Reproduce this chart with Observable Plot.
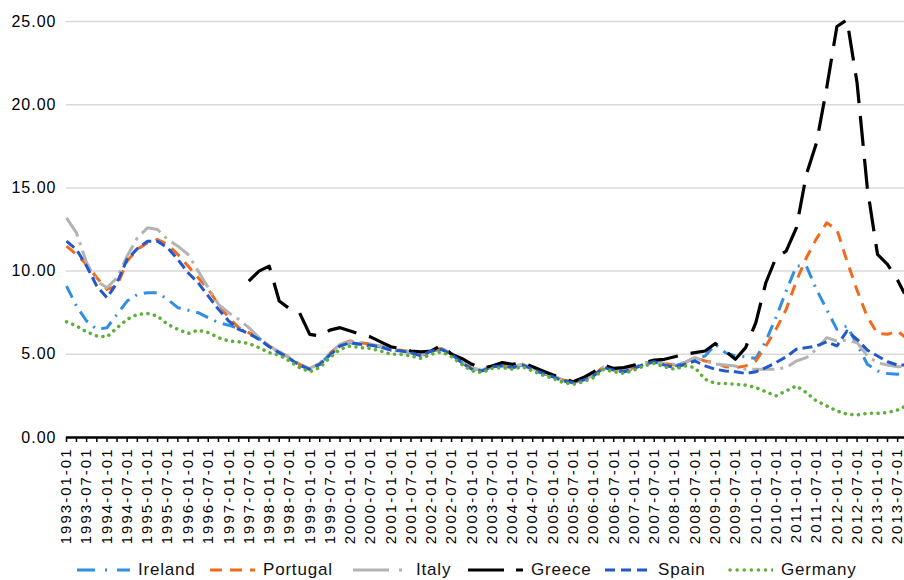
<!DOCTYPE html>
<html><head><meta charset="utf-8">
<script src="https://cdn.jsdelivr.net/npm/d3@7"></script>
<script src="https://cdn.jsdelivr.net/npm/@observablehq/plot@0.6"></script>
<style>
body{margin:0;background:#fff;font-family:"Liberation Sans",Arial,sans-serif;}
#chart svg [aria-label="x-axis tick label"] text{letter-spacing:2px;}
#chart svg [aria-label="y-axis tick label"] text{letter-spacing:1px;}
#legend{position:relative;height:36px;width:904px;}
.item{position:absolute;top:0;height:36px;display:flex;align-items:center;font-size:17px;letter-spacing:0.8px;color:#111;}
.item svg{margin-right:8px;}
</style></head><body>
<div id="chart"></div>
<div id="legend"></div>
<script>
// Series names (legend order)
const seriesNames = ["Ireland", "Portugal", "Italy", "Greece", "Spain", "Germany"];

// Quarterly observation dates 1993-01 .. 2013-07, plus 2013-09
const dates = [...d3.utcMonth.every(3).range(new Date("1993-01-01"), new Date("2013-07-02")), new Date("2013-09-01")];

const ireland = [9.1,7.9,7.0,6.5,6.6,7.4,8.2,8.6,8.7,8.7,8.3,7.8,7.65,7.5,7.2,6.9,6.75,6.55,6.3,5.95,
5.5,5.1,4.75,4.35,4.1,4.4,5.0,5.55,5.7,5.6,5.5,5.45,5.25,5.2,5.1,4.9,5.2,5.3,5.0,4.5,
4.1,4.0,4.25,4.3,4.2,4.35,4.1,3.85,3.65,3.4,3.3,3.45,3.75,4.2,4.05,3.95,4.15,4.4,4.55,4.4,
4.3,4.5,4.7,4.9,5.6,5.1,4.9,4.85,4.75,5.8,7.2,8.8,10.3,10.3,8.9,7.7,6.5,6.7,5.6,4.4,4.0,3.85,3.8,3.9];

const portugal = [11.5,11.0,10.4,9.6,8.9,9.1,10.6,11.3,11.7,11.9,11.6,11.0,10.3,9.6,8.9,8.0,7.2,6.6,6.3,5.95,
5.5,5.15,4.8,4.4,4.15,4.45,5.05,5.6,5.8,5.7,5.6,5.5,5.3,5.25,5.15,4.95,5.25,5.35,5.05,4.55,
4.15,4.05,4.3,4.35,4.25,4.4,4.15,3.9,3.7,3.45,3.35,3.5,3.75,4.25,4.1,4.0,4.2,4.45,4.6,4.45,
4.35,4.5,4.8,4.6,4.5,4.25,4.2,4.3,4.6,5.5,6.5,7.7,9.4,10.8,11.95,12.9,12.5,10.6,8.85,7.25,6.25,6.2,6.4,6.05];

const italy = [13.2,12.3,10.5,9.4,9.0,9.6,10.9,12.0,12.6,12.5,11.9,11.5,11.0,10.0,9.0,8.0,7.5,7.1,6.6,6.0,
5.5,5.15,4.8,4.4,4.15,4.45,5.05,5.6,5.75,5.7,5.6,5.5,5.3,5.25,5.15,4.95,5.25,5.35,5.05,4.55,
4.15,4.05,4.3,4.35,4.25,4.4,4.15,3.9,3.7,3.45,3.35,3.5,3.75,4.25,4.1,4.0,4.2,4.45,4.6,4.45,
4.4,4.5,4.8,4.6,4.4,4.35,4.3,4.1,4.1,4.1,4.1,4.2,4.6,4.8,5.3,6.0,5.8,5.85,5.7,4.9,4.5,4.35,4.25,4.25];

const greece = [null,null,null,null,null,null,null,null,null,null,null,null,null,null,null,null,null,null,9.4,10.0,
10.3,8.2,7.75,7.5,6.2,6.1,6.45,6.6,6.4,6.2,6.05,5.75,5.45,5.35,5.2,5.15,5.2,5.55,5.0,4.75,
4.4,4.15,4.3,4.5,4.4,4.5,4.25,4.0,3.75,3.55,3.35,3.6,3.95,4.35,4.15,4.2,4.35,4.5,4.65,4.7,
4.85,5.0,5.1,5.2,5.65,5.2,4.7,5.4,6.9,9.3,10.8,11.2,12.6,15.8,17.7,21.0,24.7,25.1,21.3,15.0,11.0,10.4,9.45,8.65];

const spain = [11.8,11.3,10.3,9.1,8.4,9.3,10.7,11.35,11.8,11.8,11.4,10.7,9.9,9.3,8.5,7.7,7.0,6.5,6.25,5.9,
5.45,5.1,4.75,4.35,4.1,4.4,4.95,5.5,5.7,5.6,5.55,5.45,5.25,5.2,5.1,4.9,5.2,5.3,5.0,4.5,
4.1,4.0,4.25,4.3,4.2,4.35,4.1,3.85,3.65,3.4,3.3,3.45,3.7,4.2,4.05,3.95,4.15,4.4,4.55,4.35,
4.2,4.4,4.6,4.3,4.1,4.0,3.95,3.85,3.95,4.2,4.5,4.85,5.3,5.4,5.5,5.75,5.5,6.4,5.9,5.25,4.9,4.55,4.35,4.35];

const germany = [6.95,6.7,6.35,6.1,6.05,6.6,7.1,7.4,7.45,7.3,6.8,6.5,6.25,6.45,6.3,6.0,5.8,5.75,5.65,5.4,
5.1,4.95,4.6,4.2,3.95,4.2,4.8,5.3,5.5,5.4,5.35,5.2,5.0,5.0,4.9,4.75,5.0,5.15,4.85,4.4,
4.0,3.9,4.15,4.2,4.1,4.25,4.0,3.75,3.55,3.3,3.2,3.35,3.6,4.1,3.95,3.85,4.05,4.3,4.45,4.25,
4.1,4.3,4.2,3.5,3.25,3.25,3.2,3.15,3.0,2.75,2.5,2.8,3.1,2.7,2.2,1.9,1.6,1.4,1.35,1.45,1.45,1.5,1.65,1.85];

const yTicks = [0, 5, 10, 15, 20, 25];

// Styles (kept separate from data)
const styles = {
  Ireland:  {stroke: "#2f8fe0", strokeWidth: 3, dash: "13,7,2,7", legendDash: "18,10,2,10", cap: "butt", sw: 53, left: 77},
  Portugal: {stroke: "#f26a1b", strokeWidth: 3, dash: "11,8", legendDash: "12,8", cap: "butt", sw: 45, left: 210},
  Italy:    {stroke: "#b3b3b3", strokeWidth: 3, dash: "22,6,3,6", legendDash: "36,10,3,10", cap: "butt", sw: 55, left: 353},
  Greece:   {stroke: "#000000", strokeWidth: 3.2, dash: "30,13", legendDash: "36,12", cap: "butt", sw: 55, left: 468},
  Spain:    {stroke: "#2258c9", strokeWidth: 3, dash: "10,5", legendDash: "10,6", cap: "butt", sw: 45, left: 605},
  Germany:  {stroke: "#5fae38", strokeWidth: 3.5, dash: "0.1,6.5", legendDash: "0.1,7", cap: "round", sw: 45, left: 728}
};

const seriesValues = {Ireland: ireland, Portugal: portugal, Italy: italy, Greece: greece, Spain: spain, Germany: germany};
const table = dates.map((d, i) => {
  const row = {date: d};
  for (const n of seriesNames) row[n] = seriesValues[n][i];
  return row;
});

const quarterTicks = d3.utcMonth.every(3).range(new Date("1993-01-01"), new Date("2013-09-02"));
const labelTicks = d3.utcMonth.every(6).range(new Date("1993-01-01"), new Date("2013-07-02"));

const lines = seriesNames.map(n => Plot.line(table, {
  x: "date", y: n, stroke: styles[n].stroke, strokeWidth: styles[n].strokeWidth,
  strokeDasharray: styles[n].dash, strokeLinecap: styles[n].cap, strokeLinejoin: "round"
}));

const chart = Plot.plot({
  width: 904, height: 552,
  marginLeft: 66, marginRight: 0, marginTop: 21, marginBottom: 115,
  style: {fontFamily: "'Liberation Sans', Arial, sans-serif", color: "#000", background: "#fff", overflow: "visible"},
  x: {type: "utc", domain: [new Date("1993-01-01"), new Date("2013-09-01")]},
  y: {domain: [0, 25]},
  marks: [
    Plot.gridY(yTicks, {stroke: "#d9d9d9", strokeOpacity: 1, strokeWidth: 1.5}),
    Plot.axisY({ticks: yTicks, tickSize: 0, tickPadding: 10, tickFormat: d3.format(".2f"), fontSize: 16, label: null}),
    ...lines,
    Plot.ruleY([0], {stroke: "#000", strokeWidth: 2.5}),
    Plot.axisX({ticks: quarterTicks, tickSize: 5, tickFormat: () => "", strokeWidth: 1.5, label: null}),
    Plot.axisX({ticks: labelTicks, tickSize: 0, tickPadding: 10, tickRotate: -90, tickFormat: d3.utcFormat("%Y-%m-%d"), fontSize: 15, label: null})
  ]
});
document.getElementById("chart").appendChild(chart);

// Legend
const legend = d3.select("#legend");
for (const n of seriesNames) {
  const s = styles[n];
  const item = legend.append("div").attr("class", "item").style("left", s.left + "px");
  const svg = item.append("svg").attr("width", s.sw).attr("height", 12);
  svg.append("line").attr("x1", s.cap === "round" ? 2 : 0).attr("x2", s.sw).attr("y1", 6).attr("y2", 6)
    .attr("stroke", s.stroke).attr("stroke-width", s.strokeWidth)
    .attr("stroke-dasharray", s.legendDash).attr("stroke-linecap", s.cap);
  item.append("span").text(n);
}
</script>
</body></html>
